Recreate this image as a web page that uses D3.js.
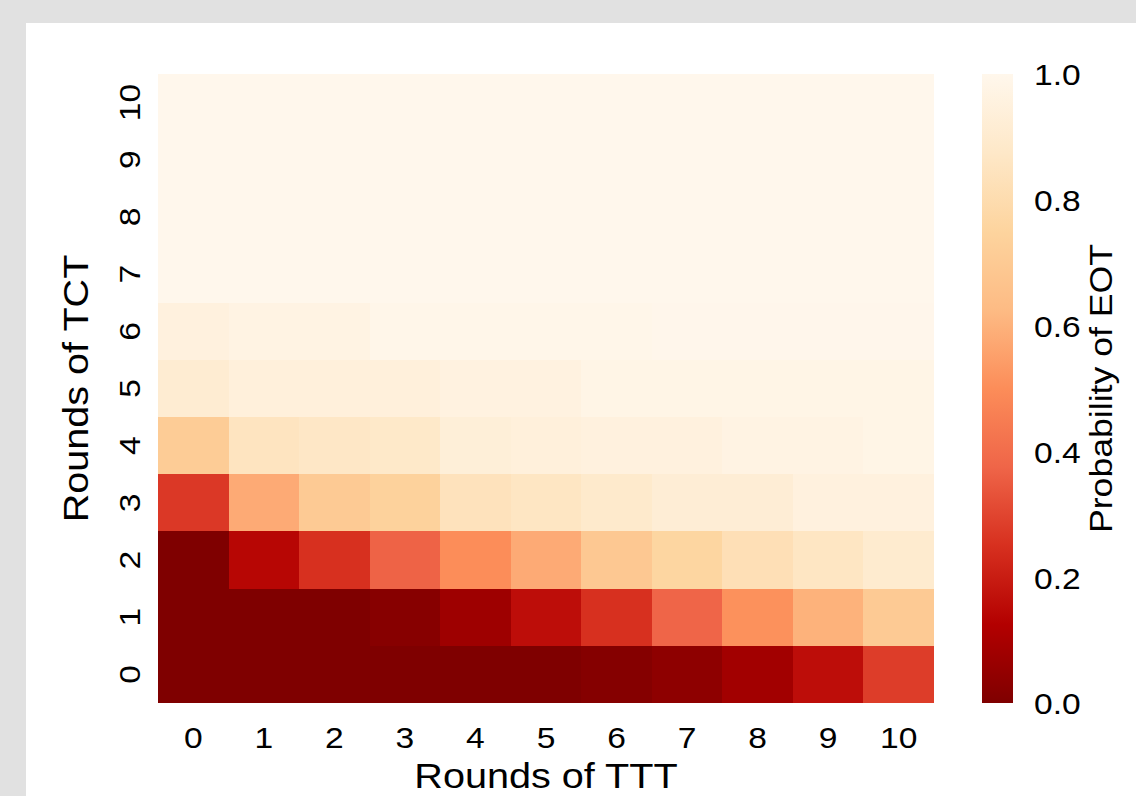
<!DOCTYPE html>
<html>
<head>
<meta charset="utf-8">
<script src="https://cdn.jsdelivr.net/npm/d3@7"></script>
<style>
  body { margin: 0; background: #e1e1e1; }
  svg { display: block; }
  text { font-family: Arial, "Liberation Sans", Helvetica, sans-serif; fill: #000; }
</style>
</head>
<body>
<svg id="chart" width="1136" height="796"></svg>
<script>
// rounds on each axis
const tttRounds = [0, 1, 2, 3, 4, 5, 6, 7, 8, 9, 10];
const tctRounds = [0, 1, 2, 3, 4, 5, 6, 7, 8, 9, 10];

// probability of EOT, one array per TCT round, indexed by TTT round
const eotTct0  = [0.00, 0.00, 0.00, 0.00, 0.00, 0.00, 0.015, 0.035, 0.085, 0.16, 0.28];
const eotTct1  = [0.00, 0.00, 0.00, 0.02, 0.075, 0.16, 0.25, 0.375, 0.51, 0.60, 0.70];
const eotTct2  = [0.00, 0.14, 0.25, 0.37, 0.50, 0.58, 0.69, 0.76, 0.82, 0.86, 0.90];
const eotTct3  = [0.27, 0.58, 0.70, 0.74, 0.84, 0.86, 0.89, 0.92, 0.92, 0.95, 0.95];
const eotTct4  = [0.71, 0.85, 0.87, 0.88, 0.93, 0.94, 0.95, 0.95, 0.97, 0.97, 0.98];
const eotTct5  = [0.91, 0.94, 0.94, 0.94, 0.96, 0.96, 0.98, 0.98, 0.98, 0.98, 0.98];
const eotTct6  = [0.95, 0.97, 0.97, 0.99, 0.99, 0.99, 0.99, 0.995, 0.995, 0.995, 0.995];
const eotTct7  = [1, 1, 1, 1, 1, 1, 1, 1, 1, 1, 1];
const eotTct8  = [1, 1, 1, 1, 1, 1, 1, 1, 1, 1, 1];
const eotTct9  = [1, 1, 1, 1, 1, 1, 1, 1, 1, 1, 1];
const eotTct10 = [1, 1, 1, 1, 1, 1, 1, 1, 1, 1, 1];
const eotRows = [eotTct0, eotTct1, eotTct2, eotTct3, eotTct4, eotTct5,
                 eotTct6, eotTct7, eotTct8, eotTct9, eotTct10];

const colorbarTicks = [0, 0.2, 0.4, 0.6, 0.8, 1.0];

const TX = 1.12; // text in the figure is a bit wide

const svg = d3.select('#chart');

svg.append('rect').attr('x', 0).attr('y', 0).attr('width', 1136).attr('height', 796).attr('fill', '#e1e1e1');
svg.append('rect').attr('x', 26).attr('y', 23).attr('width', 1110).attr('height', 773).attr('fill', '#ffffff');

const plotLeft = 158, plotRight = 934, plotTop = 74, plotBottom = 703;

const xScale = d3.scaleBand().domain(tttRounds).range([plotLeft, plotRight]);
const yScale = d3.scaleBand().domain(tctRounds).range([plotBottom, plotTop]);

// OrRd reversed, linear between the 9 brewer colours like matplotlib does
const orrd = d3.schemeOrRd[9].slice().reverse();
const color = d3.scaleLinear()
	.domain(orrd.map((c, i) => i / (orrd.length - 1)))
	.range(orrd)
	.clamp(true);

const cells = [];
eotRows.forEach((row, r) => {
	row.forEach((v, c) => cells.push({ tct: tctRounds[r], ttt: tttRounds[c], v: v }));
});

svg.append('g').selectAll('rect').data(cells).join('rect')
	.attr('x', d => xScale(d.ttt))
	.attr('y', d => yScale(d.tct))
	.attr('width', xScale.bandwidth())
	.attr('height', yScale.bandwidth())
	.attr('fill', d => color(d.v))
	.attr('shape-rendering', 'crispEdges');

// x axis
const gx = svg.append('g').attr('transform', `translate(0,${plotBottom})`)
	.call(d3.axisBottom(xScale).tickSize(0).tickPadding(24));
gx.select('.domain').remove();
gx.selectAll('text')
	.attr('font-size', 30)
	.attr('font-family', 'Arial, "Liberation Sans", sans-serif')
	.attr('transform', `scale(${TX},1)`);

// y axis, labels rotated
const gy = svg.append('g').attr('transform', `translate(${plotLeft},0)`)
	.call(d3.axisLeft(yScale).tickSize(0));
gy.select('.domain').remove();
gy.selectAll('text')
	.attr('font-size', 30)
	.attr('font-family', 'Arial, "Liberation Sans", sans-serif')
	.attr('x', 0).attr('y', 0).attr('dy', null)
	.attr('text-anchor', 'middle')
	.attr('transform', `translate(-18,0) rotate(-90) scale(${TX},1)`);

// axis titles
svg.append('text')
	.attr('transform', `translate(${(plotLeft + plotRight) / 2},788) scale(1.1,1)`)
	.attr('text-anchor', 'middle')
	.attr('font-size', 36)
	.text('Rounds of TTT');

svg.append('text')
	.attr('transform', `translate(88,${(plotTop + plotBottom) / 2}) rotate(-90) scale(1.1,1)`)
	.attr('text-anchor', 'middle')
	.attr('font-size', 36)
	.text('Rounds of TCT');

// colorbar
const cbLeft = 982, cbRight = 1013;
const grad = svg.append('defs').append('linearGradient')
	.attr('id', 'cbgrad').attr('x1', 0).attr('y1', 1).attr('x2', 0).attr('y2', 0);
grad.selectAll('stop').data(color.domain()).join('stop')
	.attr('offset', d => d)
	.attr('stop-color', d => color(d));

const cbScale = d3.scaleLinear().domain([0, 1]).range([plotBottom, plotTop]);
svg.append('rect')
	.attr('x', cbLeft).attr('y', plotTop)
	.attr('width', cbRight - cbLeft).attr('height', plotBottom - plotTop)
	.attr('fill', 'url(#cbgrad)');

const gc = svg.append('g').attr('transform', `translate(${cbRight},0)`)
	.call(d3.axisRight(cbScale).tickValues(colorbarTicks).tickFormat(d3.format('.1f')).tickSize(0));
gc.select('.domain').remove();
gc.selectAll('text')
	.attr('font-size', 30)
	.attr('font-family', 'Arial, "Liberation Sans", sans-serif')
	.attr('x', 0).attr('dy', '0.36em')
	.attr('transform', `translate(21,0) scale(${TX},1)`);

svg.append('text')
	.attr('transform', `translate(1112,${(plotTop + plotBottom) / 2}) rotate(-90) scale(1.15,1)`)
	.attr('text-anchor', 'middle')
	.attr('font-size', 31)
	.text('Probability of EOT');
</script>
</body>
</html>
